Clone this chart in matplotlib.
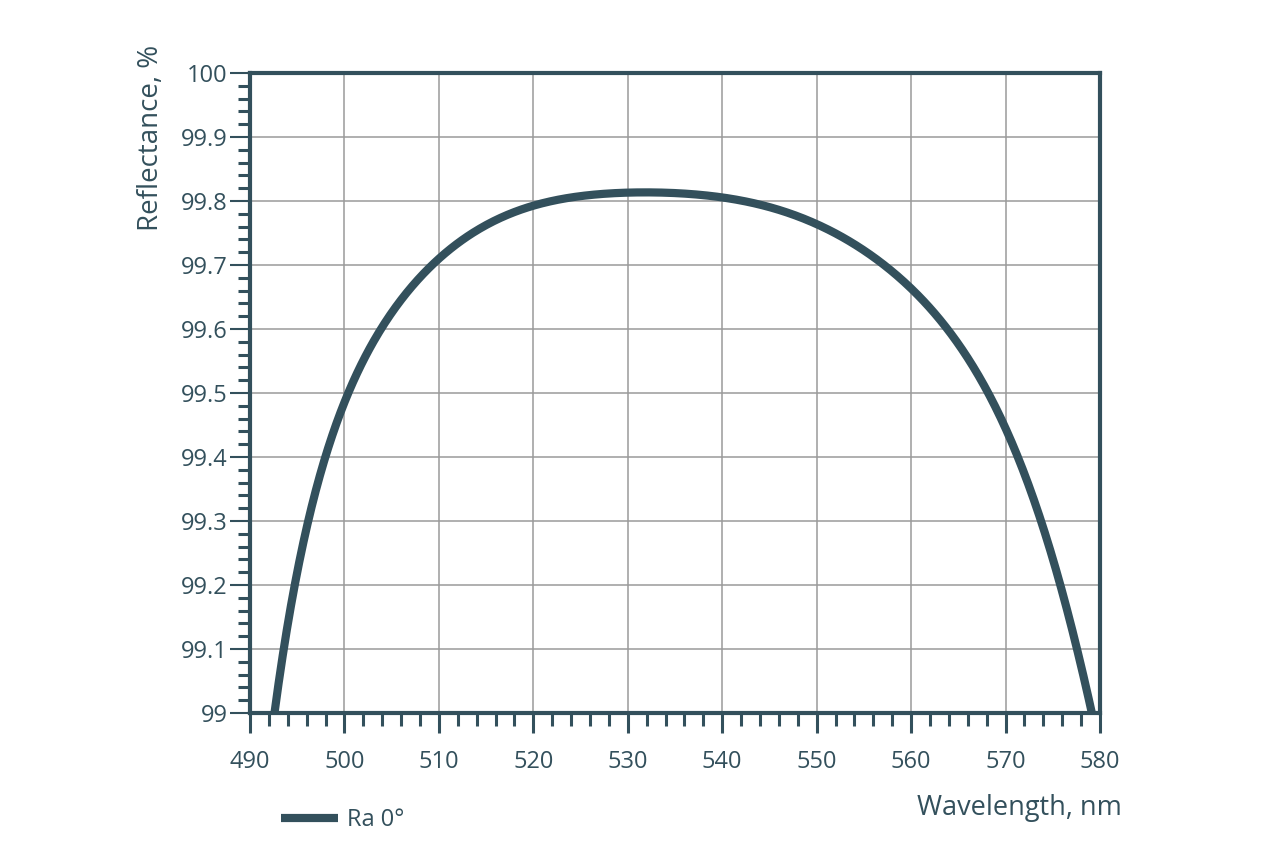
import numpy as np
import matplotlib
matplotlib.use("Agg")
import matplotlib.pyplot as plt
from matplotlib.ticker import MultipleLocator, FixedLocator, FixedFormatter

# ---- data ----
wavelength = [492.55, 493.67, 494.73, 496.1, 497.94, 500.41, 504.05, 509.0, 514.35,
              520.0, 525.2, 532.0, 540.0, 547.7, 552.5, 557.3, 560.0, 563.6,
              568.2, 571.4, 573.7, 575.8, 577.55, 579.15]
reflectance = [99.00, 99.10, 99.20, 99.30, 99.40, 99.50, 99.60, 99.70, 99.755,
               99.793, 99.808, 99.814, 99.805, 99.777, 99.746, 99.70, 99.664, 99.60,
               99.50, 99.40, 99.30, 99.20, 99.10, 99.00]

x_ticks = [490, 500, 510, 520, 530, 540, 550, 560, 570, 580]
y_ticks = [99.0, 99.1, 99.2, 99.3, 99.4, 99.5, 99.6, 99.7, 99.8, 99.9, 100.0]
y_tick_labels = ['99', '99.1', '99.2', '99.3', '99.4', '99.5', '99.6',
                 '99.7', '99.8', '99.9', '100']
series_name = 'Ra 0°'

# ---- style ----
dark = '#33505c'
grid_col = '#9a9a9a'
plt.rcParams['font.family'] = ['Open Sans', 'DejaVu Sans']

fig = plt.figure(figsize=(12.78, 8.67), dpi=100)
ax = fig.add_axes([250 / 1278, (867 - 713) / 867, 850 / 1278, 640 / 867])

# smooth line through the read points (least squares, to even out reading noise)
xs = np.array(wavelength)
ys = np.array(reflectance)
xm, xr = xs.mean(), (xs.max() - xs.min()) / 2
coef = np.polyfit((xs - xm) / xr, ys, 9)
xf = np.linspace(xs.min() - 0.4, xs.max() + 0.4, 600)
yf = np.polyval(coef, (xf - xm) / xr)
ax.plot(xf, yf, color=dark, lw=5.9, solid_capstyle='butt', label=series_name)

ax.set_xlim(490, 580)
ax.set_ylim(99, 100)

ax.xaxis.set_major_locator(FixedLocator(x_ticks))
ax.xaxis.set_minor_locator(MultipleLocator(2))
ax.yaxis.set_major_locator(FixedLocator(y_ticks))
ax.yaxis.set_major_formatter(FixedFormatter(y_tick_labels))
ax.yaxis.set_minor_locator(MultipleLocator(0.02))

ax.grid(True, which='major', color=grid_col, lw=1.1)
ax.set_axisbelow(True)

for s in ax.spines.values():
    s.set_color(dark)
    s.set_linewidth(3)

ax.tick_params(axis='x', which='major', direction='out', length=14.5, width=2.2,
               color=dark, labelcolor=dark, labelsize=17, pad=12)
ax.tick_params(axis='x', which='minor', direction='out', length=9.5, width=2.2, color=dark)
ax.tick_params(axis='y', which='major', direction='out', length=14.5, width=1.5,
               color=dark, labelcolor=dark, labelsize=17, pad=1.5)
ax.tick_params(axis='y', which='minor', direction='out', length=8.5, width=2.2, color=dark)

ax.set_xlabel('Wavelength, nm', fontsize=19.5, color=dark, loc='right')
ax.xaxis.set_label_coords(1.026, -0.127)
ax.set_ylabel('Reflectance, %', fontsize=20, color=dark, loc='top')
ax.yaxis.set_label_coords(-0.100, 1.044)

ax.legend(loc='center left', bbox_to_anchor=(0.036, -0.167), frameon=False,
          fontsize=17, handlelength=2.45, handletextpad=0.35, borderpad=0,
          borderaxespad=0, labelcolor=dark)

fig.savefig('out.png', dpi=100)
